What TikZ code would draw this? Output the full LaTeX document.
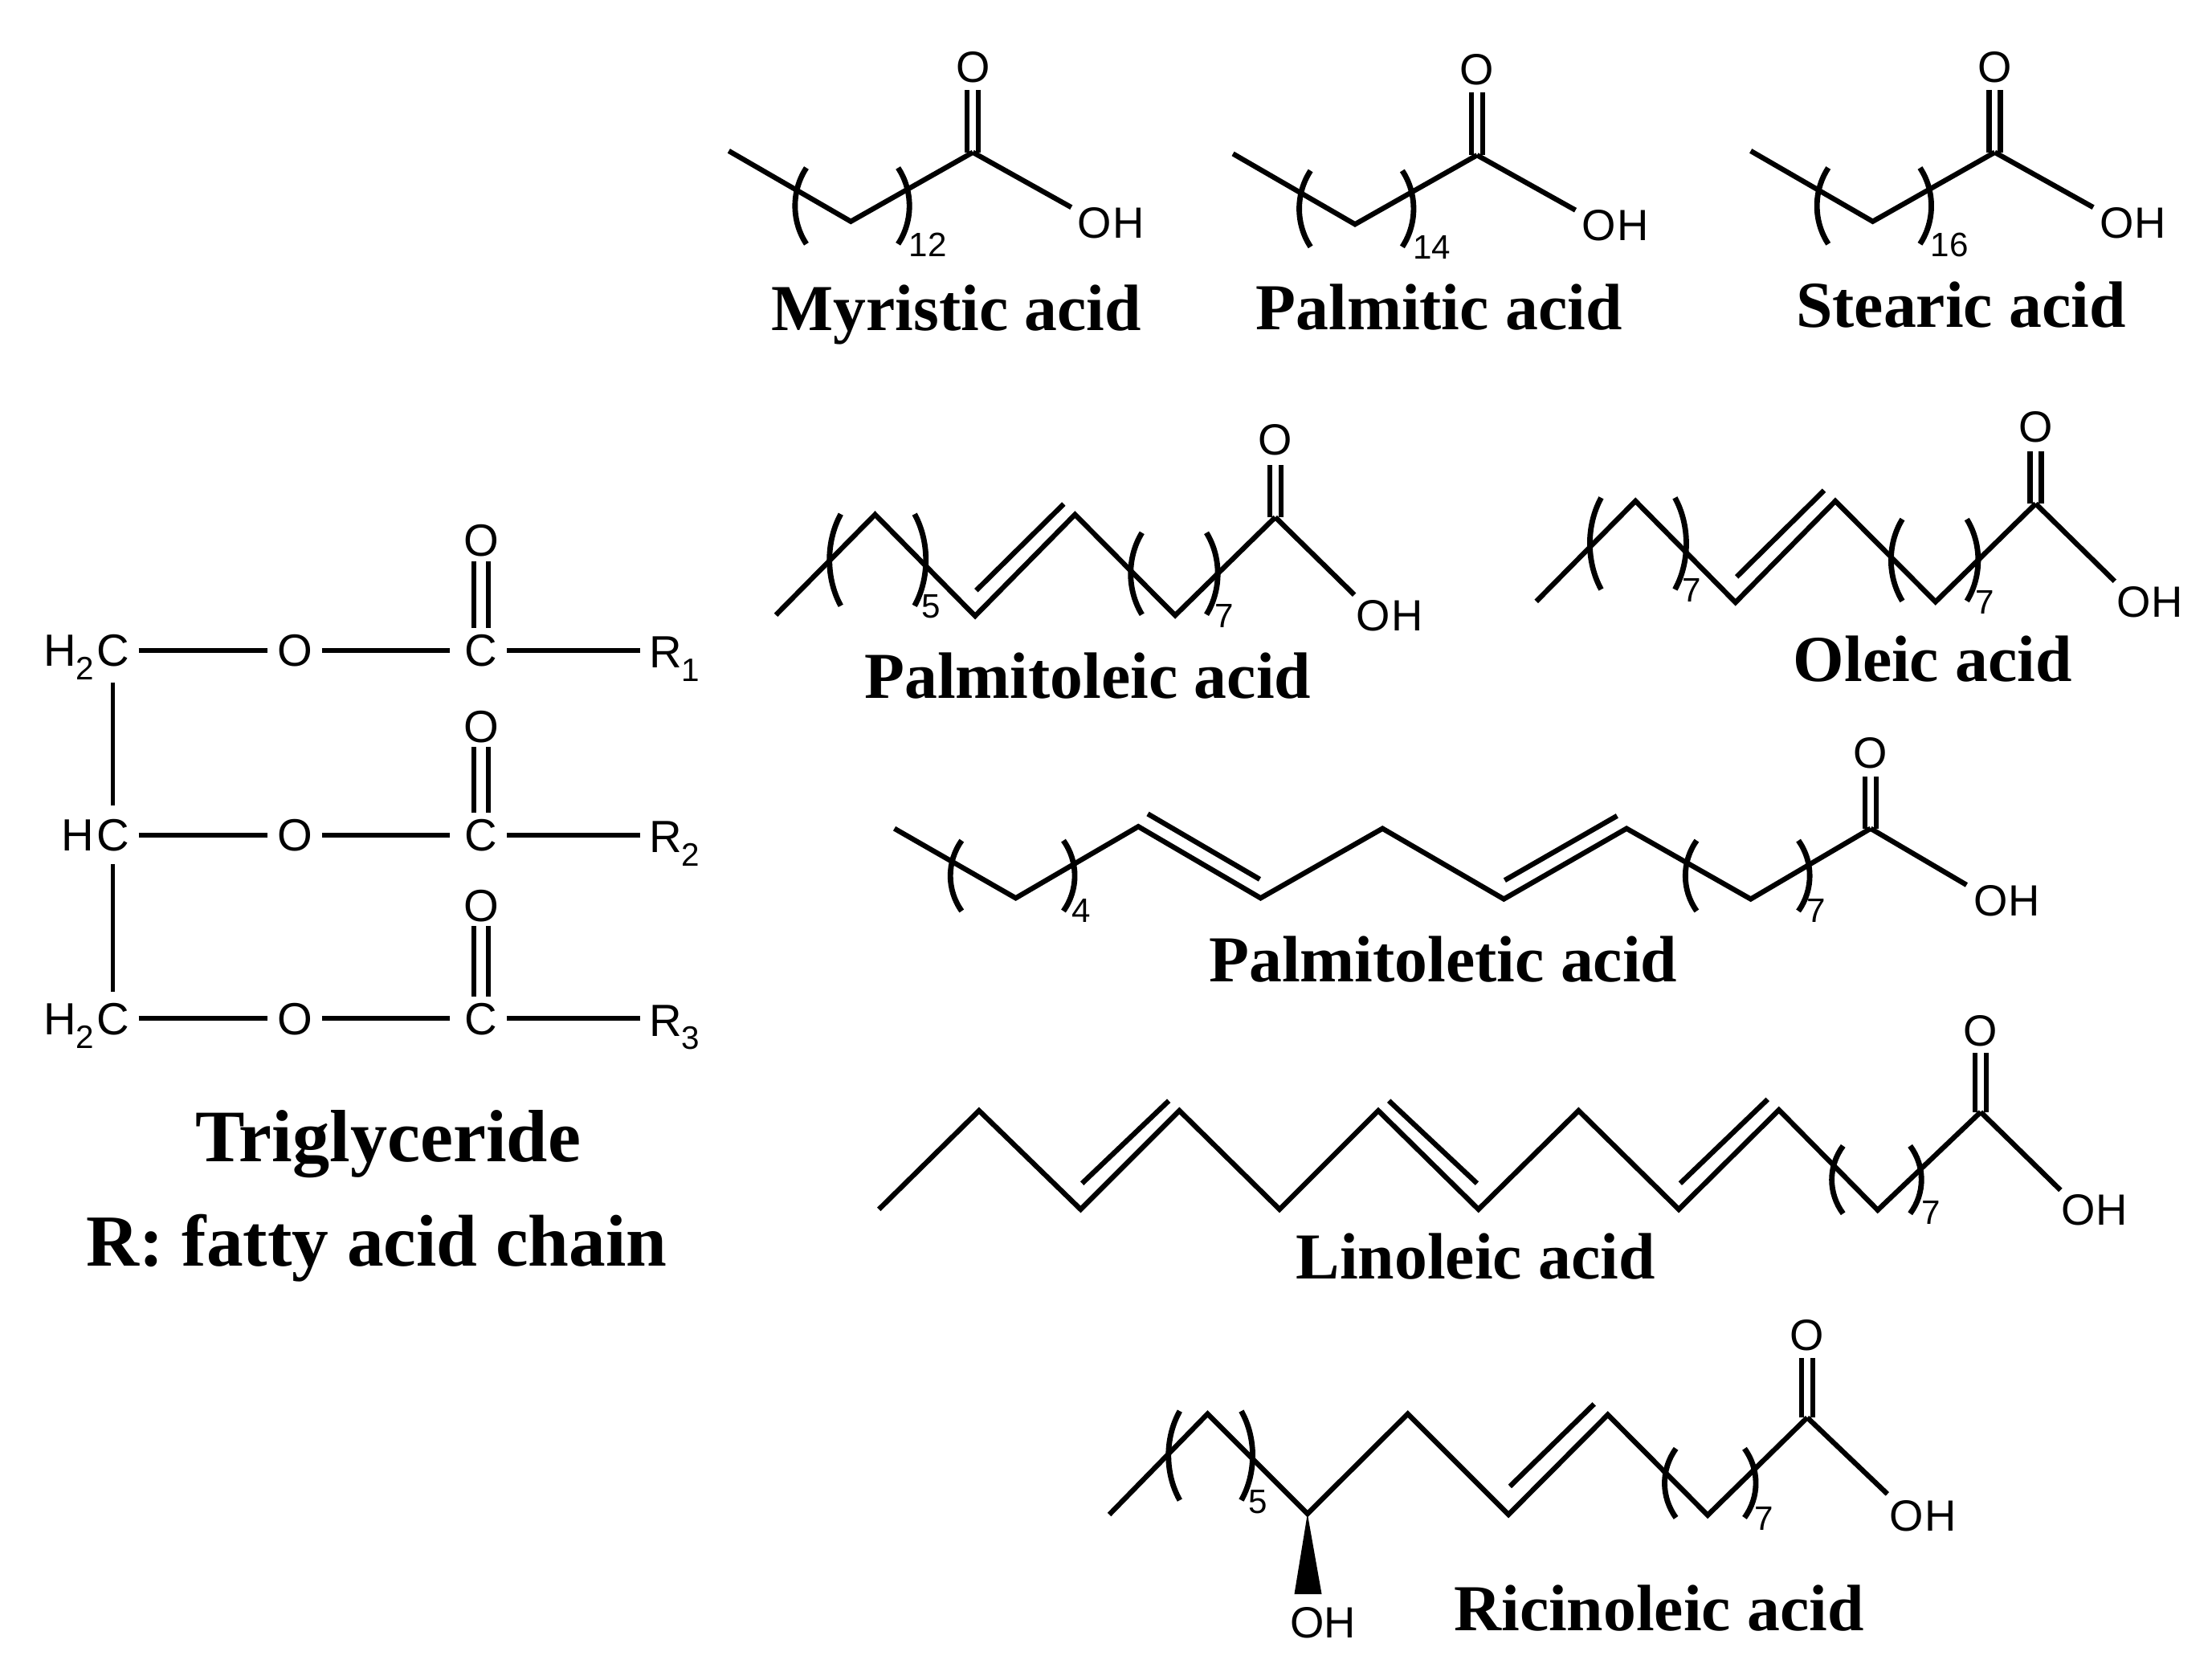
\documentclass[tikz,border=0pt]{standalone}
\usepackage{fontspec}
\setmainfont{Liberation Serif}
\newfontfamily\chemfont{Liberation Sans}
\tikzset{
  x=1pt,y=-1pt,
  bond/.style={line width=3.6pt,black},
  tbond/.style={line width=3.2pt,black},
  paren line/.style={line width=3.9pt,black},
  atom/.style={inner sep=0pt,font=\chemfont\fontsize{31}{31}\selectfont,text height=22.2pt,text depth=0pt},
  tatom/.style={inner xsep=6.5pt,inner ysep=6pt,font=\chemfont\fontsize{32}{32}\selectfont,text height=23pt,text depth=0pt},
  count/.style={inner sep=0pt,font=\chemfont\fontsize{24}{24}\selectfont},
  title/.style={inner sep=0pt,font=\bfseries\fontsize{46.5}{46.5}\selectfont},
  bigtitle/.style={inner sep=0pt,font=\bfseries\fontsize{52.5}{52.5}\selectfont},
  bigtitleb/.style={inner sep=0pt,font=\bfseries\fontsize{52}{52}\selectfont},
}
\newcommand{\lowidx}[1]{\raisebox{-0.3em}{\fontsize{23}{23}\selectfont #1}}
\newcommand{\lparen}[3]{\draw[paren line] (#1+8,#2-#3) .. controls (#1-2.7,#2-#3*0.4) and (#1-2.7,#2+#3*0.4) .. (#1+8,#2+#3);}
\newcommand{\rparen}[3]{\draw[paren line] (#1-8,#2-#3) .. controls (#1+2.7,#2-#3*0.4) and (#1+2.7,#2+#3*0.4) .. (#1-8,#2+#3);}
% prefix, OH x, OH y, bond end x, bond end y, top of C=O lines, O height (all from prefix-c)
\newcommand{\carboxyl}[7]{%
  \node[atom] (#1-o) at ([yshift=#7pt]#1-c) {O};
  \node[atom] (#1-oh) at ([xshift=#2pt,yshift=-#3pt]#1-c) {O};
  \node[atom,anchor=west,xshift=0.3pt] (#1-h) at (#1-oh.east) {H};
  \coordinate (#1-e) at ([xshift=#4pt,yshift=-#5pt]#1-c);
  \coordinate (#1-t) at ([yshift=#6pt]#1-c);
  \draw[bond] (#1-c) -- (#1-e);
  \draw[bond] ([xshift=-4pt]#1-c) -- ([xshift=-4pt]#1-t);
  \draw[bond] ([xshift=4pt]#1-c) -- ([xshift=4pt]#1-t);
}
\newcommand{\satacid}[4]{%
  \begin{scope}[shift={(#2,#3)}]
    \coordinate (#1-a) at (0,0);
    \coordinate (#1-b) at (86.5,50);
    \coordinate (#1-c) at (173,1);
    \draw[bond] (#1-a) -- (#1-b) -- (#1-c);
    \lparen{47}{39}{27}
    \rparen{128}{39}{27}
    \node[count] (#1-n) at (141,66.5) {#4};
    \carboxyl{#1}{86.4}{49.5}{69.8}{39}{44.4}{61}
  \end{scope}}
\begin{document}
\begin{tikzpicture}
\useasboundingbox (0,0) rectangle (1568,1187.7);
\fill[white] (0,0) rectangle (1568,1187.7);

% Triglyceride
\foreach \r/\y/\oy/\k in {1/461/383/1,2/592/515/2,3/722/642/3}{
  \node[tatom] (c\r) at (80,\y) {C};
  \node[tatom] (o\r) at (209,\y) {O};
  \node[tatom] (k\r) at (341,\y) {C};
  \node[tatom,inner xsep=6pt,inner ysep=3pt] (d\r) at (341,\oy) {O};
  \node[tatom,anchor=west,inner xsep=6pt] (r\r) at (454,\y+1) {R\lowidx{\k}};
  \draw[tbond] (c\r) -- (o\r);
  \draw[tbond,shorten >=4pt] (o\r) -- (k\r);
  \draw[tbond] (k\r) -- (r\r.west |- k\r);
  \draw[tbond] ([xshift=-5pt,yshift=-2pt]k\r.north) -- ([xshift=-5pt]d\r.south);
  \draw[tbond] ([xshift=5pt,yshift=-2pt]k\r.north) -- ([xshift=5pt]d\r.south);
}
\node[tatom,anchor=east,inner xsep=0pt,xshift=-2pt] (h1) at (c1.center) {H\lowidx{2}\hspace*{11pt}};
\node[tatom,anchor=east,inner xsep=0pt,xshift=-2pt] (h2) at (c2.center) {H\hspace*{11pt}};
\node[tatom,anchor=east,inner xsep=0pt,xshift=-2pt] (h3) at (c3.center) {H\lowidx{2}\hspace*{11pt}};
\draw[tbond,shorten <=5pt,shorten >=3pt] (c1) -- (c2);
\draw[tbond,shorten <=3pt,shorten >=1pt] (c2) -- (c3);
\node[bigtitle] (tg) at (275,811) {Triglyceride};
\node[bigtitleb] (rf) at (267,885) {R: fatty acid chain};

% Saturated acids
\satacid{my}{516.6}{107}{12}
\node[title] (myl) at (678,223) {Myristic acid};
\satacid{pa}{874}{109}{14}
\node[title] (pal) at (1020,218) {Palmitic acid};
\satacid{st}{1241}{107}{16}
\node[title] (stl) at (1390,216) {Stearic acid};

% Palmitoleic and Oleic
\foreach \m/\X/\Y/\K/\P/\Q in {po/550/436/5/-39/-6,ol/1089/426.4/7/-41/-8}{
  \begin{scope}[shift={(\X,\Y)}]
    \coordinate (\m-1) at (0,0);
    \coordinate (\m-2) at (70.3,-71.2);
    \coordinate (\m-3) at (141.2,0.7);
    \coordinate (\m-4) at (212,-71.2);
    \coordinate (\m-5) at (283,0.3);
    \coordinate (\m-c) at (354,-69.3);
    \coordinate (\m-i1) at (142,-17.4);
    \coordinate (\m-i2) at (204,-78.7);
    \draw[bond] (\m-1) -- (\m-2) -- (\m-3) -- (\m-4) -- (\m-5) -- (\m-c);
    \draw[bond] (\m-i1) -- (\m-i2);
    \lparen{38}{\P}{32.5}
    \rparen{106.3}{\P}{32.5}
    \lparen{251.5}{-29.3}{29}
    \rparen{313.2}{-29.3}{29}
    \node[count] (\m-n1) at (110,\Q) {\K};
    \node[count] (\m-n2) at (318,0.5) {7};
    \carboxyl{\m}{69.5}{69.3}{56}{55}{37}{55}
  \end{scope}
}
\node[title] (pol) at (771,479) {Palmitoleic acid};
\node[title] (oll) at (1370,467) {Oleic acid};

% Palmitoletic
\begin{scope}[shift={(634,587.4)}]
  \coordinate (pl-1) at (0,0);
  \coordinate (pl-2) at (86,49.3);
  \coordinate (pl-3) at (172.9,-1.4);
  \coordinate (pl-4) at (259.6,49.3);
  \coordinate (pl-5) at (346,0);
  \coordinate (pl-6) at (432,50);
  \coordinate (pl-7) at (519,0);
  \coordinate (pl-8) at (607,50);
  \coordinate (pl-c) at (692,0);
  \coordinate (pl-i1) at (179.6,-10.4);
  \coordinate (pl-i2) at (259,36);
  \coordinate (pl-i3) at (432.6,36.7);
  \coordinate (pl-i4) at (512.3,-9);
  \draw[bond] (pl-1) -- (pl-2) -- (pl-3) -- (pl-4) -- (pl-5) -- (pl-6) -- (pl-7) -- (pl-8) -- (pl-c);
  \draw[bond] (pl-i1) -- (pl-i2);
  \draw[bond] (pl-i3) -- (pl-i4);
  \lparen{39.7}{33.5}{25}
  \rparen{127.8}{33.5}{25}
  \lparen{560.7}{33.5}{25}
  \rparen{648.8}{33.5}{25}
  \node[count] (pl-n1) at (132.7,58) {4};
  \node[count] (pl-n2) at (653.5,58) {7};
  \carboxyl{pl}{85}{51}{68}{40}{37}{54}
\end{scope}
\node[title] (pll) at (1023,680) {Palmitoletic acid};

% Linoleic
\begin{scope}[shift={(623,857.4)}]
  \coordinate (li-1) at (0,0);
  \coordinate (li-2) at (71,-70);
  \coordinate (li-3) at (143,0);
  \coordinate (li-4) at (213,-70);
  \coordinate (li-5) at (284,0);
  \coordinate (li-6) at (354,-70);
  \coordinate (li-7) at (425,0);
  \coordinate (li-8) at (496,-70);
  \coordinate (li-9) at (567,0);
  \coordinate (li-10) at (638,-70.5);
  \coordinate (li-11) at (708,0.5);
  \coordinate (li-c) at (781,-69);
  \coordinate (li-i1) at (144,-18.4);
  \coordinate (li-i2) at (205.5,-77);
  \coordinate (li-i3) at (361.5,-77);
  \coordinate (li-i4) at (424,-18.4);
  \coordinate (li-i5) at (568,-18.4);
  \coordinate (li-i6) at (630,-78);
  \draw[bond] (li-1) -- (li-2) -- (li-3) -- (li-4) -- (li-5) -- (li-6) -- (li-7) -- (li-8) -- (li-9) -- (li-10) -- (li-11) -- (li-c);
  \draw[bond] (li-i1) -- (li-i2);
  \draw[bond] (li-i3) -- (li-i4);
  \draw[bond] (li-i5) -- (li-i6);
  \lparen{675.5}{-21}{24}
  \rparen{739}{-21}{24}
  \node[count] (li-n) at (745.6,2.4) {7};
  \carboxyl{li}{69}{69}{56.6}{55.4}{42}{58}
\end{scope}
\node[title] (lil) at (1046,891) {Linoleic acid};

% Ricinoleic
\begin{scope}[shift={(786.3,1073.8)}]
  \coordinate (ri-1) at (0,0);
  \coordinate (ri-2) at (69.7,-71.4);
  \coordinate (ri-3) at (140.5,-0.6);
  \coordinate (ri-4) at (211.6,-71.4);
  \coordinate (ri-5) at (283,0);
  \coordinate (ri-6) at (353.4,-70.8);
  \coordinate (ri-7) at (424.2,0.4);
  \coordinate (ri-c) at (494.8,-68.8);
  \coordinate (ri-i1) at (284,-20);
  \coordinate (ri-i2) at (343.7,-78.4);
  \draw[bond] (ri-1) -- (ri-2) -- (ri-3) -- (ri-4) -- (ri-5) -- (ri-6) -- (ri-7) -- (ri-c);
  \draw[bond] (ri-i1) -- (ri-i2);
  \lparen{42}{-41.8}{31.6}
  \rparen{101.6}{-41.8}{31.6}
  \lparen{393.7}{-22.3}{24.5}
  \rparen{458.3}{-22.3}{24.5}
  \node[count] (ri-n1) at (105.6,-9) {5};
  \node[count] (ri-n2) at (464.3,2.6) {7};
  \carboxyl{ri}{70.5}{69.2}{56.8}{54.2}{42}{59}
  \fill[black] (ri-3) -- (131.2,56.4) -- (150.6,56.4) -- cycle;
  \node[atom] (ri-ow) at (151.6,76) {OH};
\end{scope}
\node[title] (ril) at (1176,1140) {Ricinoleic acid};
\end{tikzpicture}
\end{document}
